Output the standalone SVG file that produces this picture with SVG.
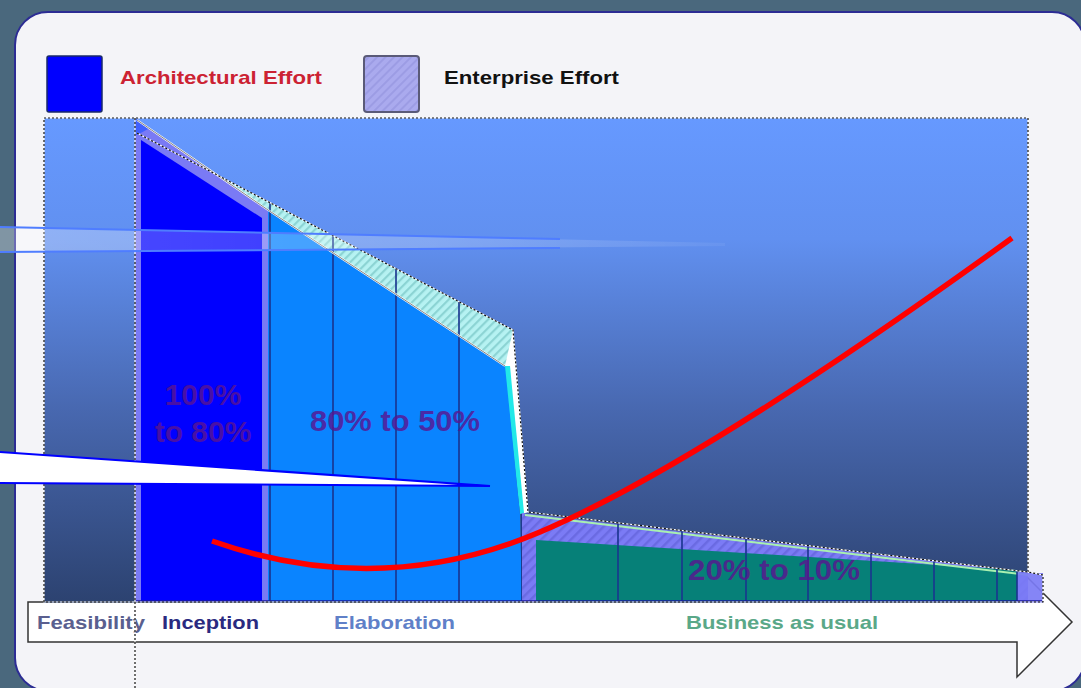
<svg xmlns="http://www.w3.org/2000/svg" width="1081" height="688" viewBox="0 0 1081 688">
<style>
.lbl{font-family:"Liberation Sans",Arial,sans-serif;font-weight:bold}
.leg{font-size:19px}
.phase{font-size:19px}
.pct{font-size:30px;fill:#5a1490;opacity:0.8}
.ants-w{fill:none;stroke:#ffffff;stroke-width:1.2}
.ants-b{fill:none;stroke:#111111;stroke-width:1.2;stroke-dasharray:2 2}
.vline{stroke:#1a3690;stroke-width:1.8;opacity:0.9}
</style>
<defs>
<linearGradient id="bg" x1="0" y1="0" x2="0" y2="1">
<stop offset="0" stop-color="#6699ff"/>
<stop offset="0.25" stop-color="#6190f0"/>
<stop offset="0.6" stop-color="#4868b0"/>
<stop offset="1" stop-color="#2c4270"/>
</linearGradient>
<linearGradient id="beam" x1="0" y1="0" x2="1" y2="0">
<stop offset="0" stop-color="#ffffff" stop-opacity="0.3"/>
<stop offset="0.6" stop-color="#ffffff" stop-opacity="0.22"/>
<stop offset="1" stop-color="#ffffff" stop-opacity="0.05"/>
</linearGradient>
<pattern id="hatchCyan" width="6" height="6" patternUnits="userSpaceOnUse" patternTransform="rotate(45)">
<rect width="6" height="6" fill="#b6f2f2"/>
<rect width="2.2" height="6" fill="#8cd4d4"/>
</pattern>
<pattern id="hatchLav" width="6" height="6" patternUnits="userSpaceOnUse" patternTransform="rotate(45)">
<rect width="6" height="6" fill="#aaaaee"/>
<rect width="2" height="6" fill="#9c9ce4"/>
</pattern>
<pattern id="hatchBand" width="7" height="7" patternUnits="userSpaceOnUse" patternTransform="rotate(45)">
<rect width="7" height="7" fill="#7b7bf5"/>
<rect width="2.5" height="7" fill="#6a6ae2"/>
</pattern>
</defs>

<rect x="0" y="0" width="1081" height="688" fill="#4a687d"/>
<rect id="panel" x="15" y="12" width="1070" height="679" rx="33" fill="#f4f4f8" stroke="#2c2c94" stroke-width="2"/>

<g id="legend">
<rect x="47" y="56" width="55" height="56" rx="2" fill="#0000ff" stroke="#1a2a6a" stroke-width="1.5"/>
<text class="lbl leg" x="120" y="84" fill="#cc2233" textLength="202" lengthAdjust="spacingAndGlyphs">Architectural Effort</text>
<rect x="364" y="56" width="55" height="56" rx="3" fill="url(#hatchLav)" stroke="#5a5a78" stroke-width="2"/>
<text class="lbl leg" x="444" y="84" fill="#111111" textLength="175" lengthAdjust="spacingAndGlyphs">Enterprise Effort</text>
</g>

<g id="timeline">
<path d="M28,602 H1017 V567 L1072,622 L1017,677 V642 H28 Z" fill="#ffffff" stroke="#333333" stroke-width="1.5"/>
<text class="lbl phase" x="37" y="629" fill="#5a5f8f" textLength="108" lengthAdjust="spacingAndGlyphs">Feasibility</text>
<text class="lbl phase" x="162" y="629" fill="#2a2a80" textLength="97" lengthAdjust="spacingAndGlyphs">Inception</text>
<text class="lbl phase" x="334" y="629" fill="#6080c8" textLength="121" lengthAdjust="spacingAndGlyphs">Elaboration</text>
<text class="lbl phase" x="686" y="629" fill="#5aa888" textLength="192" lengthAdjust="spacingAndGlyphs">Business as usual</text>
</g>

<g id="chart">
<rect x="44" y="118" width="984" height="485" fill="url(#bg)"/>
</g>

<g id="inception">
<polygon points="135,120 137,120 268,210 268,602 135,602" fill="#7a7af5"/>
<polygon points="141,140 262,218 262,602 141,602" fill="#0000ff"/>
<polygon points="135,118 150,128 137,135 135,135" fill="#4060ff"/>
</g>

<g id="enterprise-band">
<polygon points="217,175 513,330 528,512 522,514 505,366 268,210" fill="url(#hatchCyan)"/>
<polygon points="505,366 513,330 528,512 522,514" fill="#ffffff"/>
<polygon points="504,366 510,366 524,513 520,514" fill="#22e8e8"/>
</g>

<g id="elaboration">
<polygon points="268,210 505,366 520,514 522,602 268,602" fill="#0a84ff"/>
<line class="vline" x1="270" y1="203" x2="270" y2="602"/>
<line class="vline" x1="333" y1="236" x2="333" y2="602"/>
<line class="vline" x1="396" y1="269" x2="396" y2="602"/>
<line class="vline" x1="459" y1="302" x2="459" y2="602"/>
<line class="vline" x1="522" y1="514" x2="522" y2="602"/>
<polyline points="137,120 268,210 505,366" fill="none" stroke="#ffffff" stroke-width="2"/>
<polyline points="137,120 268,210 505,366" fill="none" stroke="#333333" stroke-width="0.6"/>
</g>

<g id="business">
<polygon points="522,513 1028,572 1028,602 522,602" fill="url(#hatchBand)"/>
<polygon points="536,540 1017,570 1017,602 536,602" fill="#068078"/>
<polyline points="525,515 1028,575" fill="none" stroke="#a8f0b0" stroke-width="2"/>
<rect x="1017" y="573" width="26" height="30" fill="#7b7bf5" opacity="0.92"/>
<line class="vline" x1="618" y1="523" x2="618" y2="602"/>
<line class="vline" x1="682" y1="530" x2="682" y2="602"/>
<line class="vline" x1="746" y1="538" x2="746" y2="602"/>
<line class="vline" x1="808" y1="545" x2="808" y2="602"/>
<line class="vline" x1="871" y1="553" x2="871" y2="602"/>
<line class="vline" x1="934" y1="560" x2="934" y2="602"/>
<line class="vline" x1="997" y1="568" x2="997" y2="602"/>
<line class="vline" x1="1017" y1="570" x2="1017" y2="602"/>
<line x1="135" y1="601" x2="1042" y2="601" stroke="#1a1aa0" stroke-width="1.5"/>
</g>

<g id="borders">
<path d="M1028,572 V118 H44 V602 H1043 V575 L1028,572" class="ants-w"/>
<path d="M1028,572 V118 H44 V602 H1043 V575 L1028,572" class="ants-b"/>
<line x1="135" y1="118" x2="135" y2="688" class="ants-w"/>
<line x1="135" y1="118" x2="135" y2="688" class="ants-b"/>
<polyline points="137,133 513,330 528,512 1028,572" class="ants-w"/>
<polyline points="137,133 513,330 528,512 1028,572" class="ants-b"/>
</g>

<g id="labels">
<text class="lbl pct" x="203" y="405" text-anchor="middle">100%</text>
<text class="lbl pct" x="203" y="442" text-anchor="middle">to 80%</text>
<text class="lbl pct" x="310" y="431" textLength="170" lengthAdjust="spacingAndGlyphs">80% to 50%</text>
<text class="lbl pct" x="688" y="580" textLength="172" lengthAdjust="spacingAndGlyphs">20% to 10%</text>
</g>

<g id="connectors">
<polygon points="0,227 725,243 725,246 0,252" fill="url(#beam)"/>
<line x1="0" y1="227" x2="560" y2="239" stroke="#4f7dff" stroke-width="2"/>
<line x1="0" y1="252" x2="560" y2="248" stroke="#4f7dff" stroke-width="2"/>
<polygon points="0,452 490,486 0,483" fill="#ffffff"/>
<polyline points="0,452 490,486 0,483" fill="none" stroke="#0000ff" stroke-width="2"/>
<path d="M212,541 Q380,600 540,532 T1012,238" fill="none" stroke="#ff0000" stroke-width="5.5"/>
</g>
</svg>
